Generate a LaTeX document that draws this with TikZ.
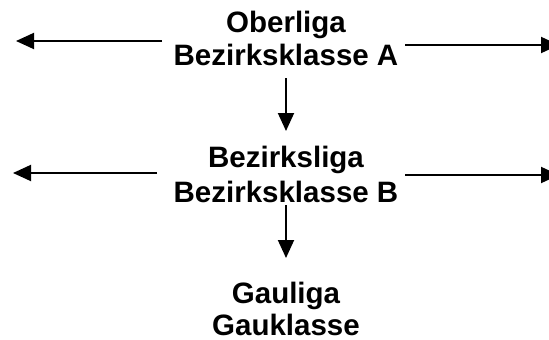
\documentclass[tikz,border=0pt]{standalone}
\usepackage{fontspec}
\setmainfont{Liberation Sans}
\usetikzlibrary{arrows.meta}
\begin{document}
\begin{tikzpicture}[x=1pt,y=-1pt,
  lbl/.style={font=\bfseries\fontsize{29.5}{34}\selectfont, inner sep=0pt, anchor=base},
  arr/.style={line width=1.9pt, -{Triangle[length=18pt,width=16pt]}}]
\useasboundingbox (0,0) rectangle (549,340);
% labels
\node[lbl] (a1) at (286,32) {Oberliga};
\node[lbl] (a2) at (286,65) {Bezirksklasse A};
\node[lbl] (b1) at (286,167) {Bezirksliga};
\node[lbl] (b2) at (286,202) {Bezirksklasse B};
\node[lbl] (c1) at (286,303) {Gauliga};
\node[lbl] (c2) at (286,335) {Gauklasse};
% free ends
\coordinate (la) at (16,41);
\coordinate (lastart) at (162,41);
\coordinate (ra) at (559,45);
\coordinate (rastart) at (405,45);
\coordinate (lb) at (13,173);
\coordinate (lbstart) at (157,173);
\coordinate (rb) at (559,175);
\coordinate (rbstart) at (405,175);
\coordinate (d1s) at (286,78);
\coordinate (d1e) at (286,131);
\coordinate (d2s) at (286,205);
\coordinate (d2e) at (286,258);
% arrows
\draw[arr] (lastart) -- (la);
\draw[arr] (rastart) -- (ra);
\draw[arr] (lbstart) -- (lb);
\draw[arr] (rbstart) -- (rb);
\draw[arr] (d1s) -- (d1e);
\draw[arr] (d2s) -- (d2e);
\end{tikzpicture}
\end{document}
